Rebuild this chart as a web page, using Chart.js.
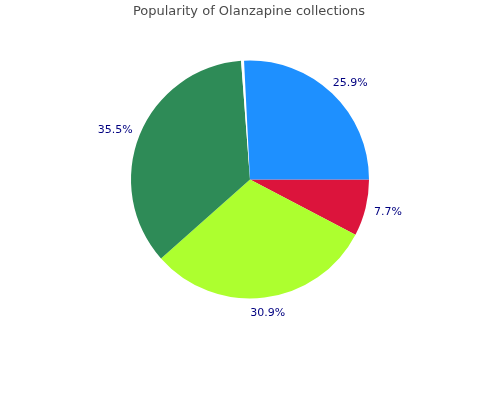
<!DOCTYPE html>
<html>
<head>
<meta charset="utf-8">
<script src="https://cdn.jsdelivr.net/npm/chart.js@4"></script>
<style>
  html, body { margin: 0; padding: 0; background: #ffffff; }
  #wrap { width: 500px; height: 400px; position: relative; }
</style>
</head>
<body>
<div id="wrap"><canvas id="pieChart"></canvas></div>
<script>
// Daten (im Uhrzeigersinn ab 3 Uhr)
const sliceLabels = ['7.7%', '30.9%', '35.5%', '', '25.9%'];
const sliceValues = [7.7, 30.9, 35.5, 0.4, 25.9];
const sliceColors = ['#DC143C', '#ADFF2F', '#2E8B57', '#FFFFFF', '#1E90FF'];
const chartTitle = 'Popularity of Olanzapine collections';

// Titel oben zeichnen
const titlePlugin = {
    id: 'titlePlugin',
    afterDraw(chart) {
        const ctx = chart.ctx;
        ctx.save();
        ctx.font = '13px "DejaVu Sans"';
        ctx.fillStyle = '#4a4a4a';
        ctx.textAlign = 'center';
        ctx.textBaseline = 'middle';
        ctx.fillText(chartTitle, 249, 12);
        ctx.restore();
    }
};

// Prozent-Beschriftungen ausserhalb der Segmente
const outsideLabels = {
    id: 'outsideLabels',
    afterDraw(chart) {
        const ctx = chart.ctx;
        const meta = chart.getDatasetMeta(0);
        ctx.save();
        ctx.font = '11px "DejaVu Sans"';
        ctx.fillStyle = '#000080';
        ctx.textAlign = 'center';
        ctx.textBaseline = 'middle';
        meta.data.forEach((arc, i) => {
            const text = sliceLabels[i];
            if (!text) return;
            const mid = (arc.startAngle + arc.endAngle) / 2;
            const r = arc.outerRadius + 9;
            const cx = Math.cos(mid), cy = Math.sin(mid);
            const w = ctx.measureText(text).width;
            const h = 12;
            const x = arc.x + r * cx + (w / 2) * cx;
            const y = arc.y + r * cy + (h / 2) * cy + 1;
            ctx.fillText(text, x, y);
        });
        ctx.restore();
    }
};

function initPieChart() {
    const ctx = document.getElementById('pieChart').getContext('2d');
    new Chart(ctx, {
        type: 'pie',
        data: {
            labels: sliceLabels,
            datasets: [{
                data: sliceValues,
                backgroundColor: sliceColors,
                borderWidth: 0
            }]
        },
        options: {
            responsive: true,
            maintainAspectRatio: false,
            animation: false,
            rotation: 90,
            layout: {
                padding: { left: 131, right: 131, top: 60.5, bottom: 101.5 }
            },
            plugins: {
                legend: { display: false },
                tooltip: { enabled: false },
                title: { display: false }
            }
        },
        plugins: [titlePlugin, outsideLabels]
    });
}

document.addEventListener('DOMContentLoaded', initPieChart);
</script>
</body>
</html>
